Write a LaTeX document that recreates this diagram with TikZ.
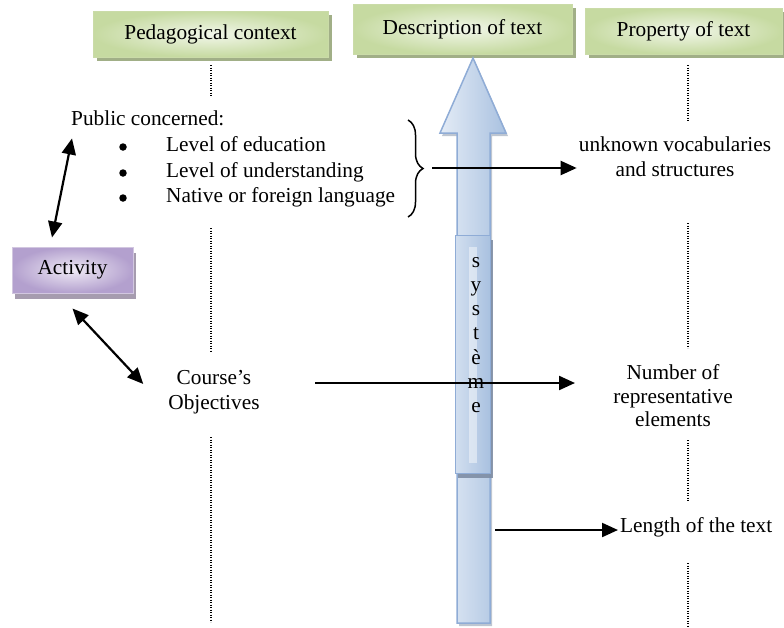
\documentclass[tikz,border=0pt]{standalone}
\usepackage{fontspec}
\setmainfont{Liberation Serif}
\usetikzlibrary{arrows.meta,shadows,decorations.pathreplacing,positioning}

\definecolor{greenedge}{HTML}{CADBA8}
\definecolor{greenin}{HTML}{F2F7EA}
\definecolor{greenout}{HTML}{C6DAA1}
\definecolor{greenshade}{HTML}{A1AF87}
\definecolor{lilacedge}{HTML}{D2C7E0}
\definecolor{lilacin}{HTML}{EFEAF5}
\definecolor{lilacout}{HTML}{B3A0CE}
\definecolor{lilacshade}{HTML}{A69CAF}
\definecolor{bluelight}{HTML}{E4ECF6}
\definecolor{bluedark}{HTML}{A9C1E0}
\definecolor{blueedge}{HTML}{8FACD6}
\definecolor{blueshade}{HTML}{7E8DA4}

\tikzset{
  headbox/.style={draw=greenedge, line width=1pt, inner color=greenin, outer color=greenout,
    drop shadow={shadow xshift=4pt, shadow yshift=-4pt, fill=greenshade, opacity=1}},
  actbox/.style={draw=lilacedge, line width=1pt, inner color=lilacin, outer color=lilacout,
    drop shadow={shadow xshift=3pt, shadow yshift=-6pt, fill=lilacshade, opacity=1}},
  sysbox/.style={draw=blueedge, line width=1pt, left color=bluelight!70!bluedark, right color=bluedark,
    drop shadow={shadow xshift=3pt, shadow yshift=-5pt, fill=blueshade, opacity=0.9}},
  txt/.style={inner sep=2pt, text height=14pt, text depth=4.5pt},
  twoline/.style={align=center, inner sep=2pt},
  dotitem/.style={circle, fill=black, inner sep=0pt, minimum size=7.5pt},
  arr/.style={line width=2.2pt, -{Triangle[length=16pt,width=14pt]}},
  dblarr/.style={line width=2.2pt, {Triangle[length=16pt,width=14pt]}-{Triangle[length=16pt,width=14pt]}},
  guide/.style={line width=1.2pt, dash pattern=on 1.2pt off 1.3pt}
}

\begin{document}
\begin{tikzpicture}[x=1pt, y=-1pt, font=\fontsize{21.3}{25}\selectfont]
\useasboundingbox (0,0) rectangle (784,627);

% 三个标题
\node[headbox, minimum width=235pt, minimum height=46pt] (ped) at (210.5,34) {Pedagogical context};
\node[headbox, minimum width=219pt, minimum height=50pt] (desc) at (462.5,29) {Description of text};
\node[headbox, minimum width=197pt, minimum height=46pt] (prop) at (683.5,31) {Property of text};

% 虚线
\draw[guide] (211,65) -- (211,97);
\draw[guide] (211,228) -- (211,352);
\draw[guide] (211,437) -- (211,622);
\draw[guide] (688,65) -- (688,122);
\draw[guide] (688,223) -- (688,348);
\draw[guide] (688,440) -- (688,502);
\draw[guide] (688,563) -- (688,627);

% 大箭头
\path[draw=blueedge, line width=1.5pt, left color=bluelight, right color=bluedark,
  drop shadow={shadow xshift=2pt, shadow yshift=-3pt, fill=blueshade, opacity=0.5}]
  (457,623) -- (457,133) -- (440,133) -- (473,58) -- (506,133) -- (490,133) -- (490,623) -- cycle;
\node[sysbox, minimum width=35pt, minimum height=238pt] (sysbar) at (472.5,354) {};
\fill[white, opacity=0.45] (469,247) rectangle (477,463);
\node[align=center, inner sep=0pt, font=\fontsize{21.3}{24.3}\selectfont] (systxt) at (476,335) {s\\y\\s\\t\\è\\m\\e};

\node[actbox, minimum width=121pt, minimum height=46pt] (act) at (72.5,270) {Activity};

\node[txt, anchor=west] (pub) at (69,121) {Public concerned:};
\node[dotitem] (dot1) at (123,147) {};
\node[dotitem] (dot2) at (123,173) {};
\node[dotitem] (dot3) at (123,198) {};
\node[txt, anchor=west] (edu) at (164,147) {Level of education};
\node[txt, anchor=west] (und) at (164,173) {Level of understanding};
\node[txt, anchor=west] (lang) at (164,198) {Native or foreign language};

\node[twoline] (unk) at (675,157) {unknown vocabularies\\and structures};
\node[twoline] (crs) at (214,392) {Course’s\\Objectives};
\node[twoline, font=\fontsize{21.3}{23.5}\selectfont] (num) at (673,396) {Number of\\representative\\elements};
\node[txt, anchor=west] (len) at (618,528) {Length of the text};

% 括号和箭头
\coordinate (bracetop) at (408,120);
\coordinate (bracebot) at (408,217);
\coordinate (bracetip) at (432,168);
\draw[decorate, decoration={brace, amplitude=15pt}, line width=1.5pt] (bracetop) -- (bracebot);
\draw[arr] (bracetip) -- (bracetip -| unk.west);

\coordinate (crsend) at (315,383);
\coordinate (numtip) at (575,383);
\draw[arr] (crsend) -- (numtip);

\coordinate (lenstart) at (495,530);
\draw[arr] (lenstart) -- (lenstart -| len.west);

\draw[dblarr] ([xshift=3pt,yshift=-6pt]pub.south west) -- ([xshift=-20.5pt,yshift=9pt]act.north);
\draw[dblarr] ([yshift=-15pt]act.south) -- ([xshift=-23pt,yshift=8pt]crs.west);
\end{tikzpicture}
\end{document}
